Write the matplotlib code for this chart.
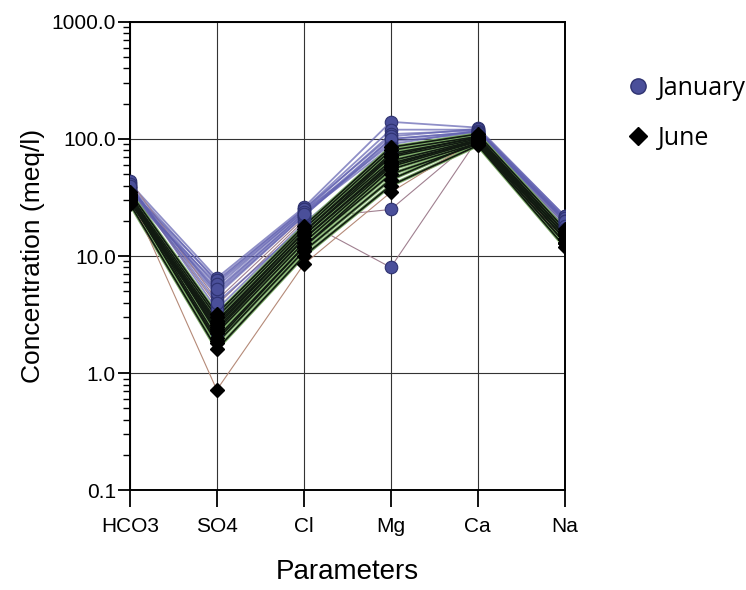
import matplotlib
matplotlib.use("Agg")
import matplotlib.pyplot as plt
from matplotlib.lines import Line2D
from matplotlib.ticker import FixedLocator, LogLocator, NullFormatter

params = ["HCO3", "SO4", "Cl", "Mg", "Ca", "Na"]
ytick_vals = [0.1, 1.0, 10.0, 100.0, 1000.0]
ytick_labels = ["0.1", "1.0", "10.0", "100.0", "1000.0"]

# January samples (meq/l)
jan_hco3 = [42, 40, 38, 36, 35, 44, 39, 37, 33, 41, 38, 36, 40, 34]
jan_so4 = [6.5, 6.0, 5.5, 5.0, 4.6, 4.2, 3.8, 6.2, 5.8, 3.5, 4.8, 5.2, 4.0, 2.2]
jan_cl = [26, 25, 24, 23, 22, 21, 20, 25, 24, 19, 22, 23, 18, 14]
jan_mg = [140, 120, 110, 100, 95, 25, 8, 105, 90, 80, 100, 85, 75, 60]
jan_ca = [125, 120, 118, 115, 112, 105, 100, 122, 118, 110, 115, 112, 108, 100]
jan_na = [22, 21, 21, 20, 20, 19, 18, 22, 21, 19, 20, 20, 18, 17]

# June samples (meq/l)
jun_hco3 = [35, 33, 32, 31, 30, 29, 34, 32, 30, 31, 28, 33, 30, 32]
jun_so4 = [3.2, 3.0, 2.8, 2.6, 2.5, 2.4, 2.2, 2.0, 1.9, 1.8, 1.6, 0.72, 2.7, 2.3]
jun_cl = [18, 17, 16, 15, 15, 14, 13, 12, 12, 11, 10, 8.5, 16, 14]
jun_mg = [85, 80, 75, 70, 65, 62, 58, 55, 50, 45, 40, 35, 72, 60]
jun_ca = [110, 105, 102, 100, 98, 96, 95, 92, 90, 94, 88, 100, 104, 97]
jun_na = [17, 16, 16, 15, 15, 14, 14, 13, 13, 14, 12, 13, 16, 15]

jan = list(zip(jan_hco3, jan_so4, jan_cl, jan_mg, jan_ca, jan_na))
jun = list(zip(jun_hco3, jun_so4, jun_cl, jun_mg, jun_ca, jun_na))
xs = list(range(len(params)))

fig = plt.figure(figsize=(7.46, 5.9), dpi=100)
ax = fig.add_axes([0.174, 0.169, 0.583, 0.794])

# outlier samples drawn with thin lines
jan_thin = {5, 6, 13}
jun_thin = {11}

for i, row in enumerate(jan):
    if i in jan_thin:
        ax.plot(xs, row, color="#a08090", lw=0.8, zorder=2)
    else:
        ax.plot(xs, row, color="#6060b0", lw=1.3, alpha=0.7, zorder=2)
for i, row in enumerate(jun):
    if i in jun_thin:
        ax.plot(xs, row, color="#b58a78", lw=0.8, zorder=3)
    else:
        ax.plot(xs, row, color="#7fae6a", lw=2.6, zorder=3)
        ax.plot(xs, row, color="#111a11", lw=1.2, zorder=4)

for row in jan:
    ax.plot(xs, row, ls="none", marker="o", ms=9, mfc="#4a4f9a",
            mec="#2e3270", mew=0.8, zorder=5)
for row in jun:
    ax.plot(xs, row, ls="none", marker="D", ms=7, color="black", zorder=6)

ax.set_yscale("log")
ax.set_ylim(0.1, 1000)
ax.set_xlim(0, 5)
ax.set_xticks(xs)
ax.set_xticklabels(params)
ax.yaxis.set_major_locator(FixedLocator(ytick_vals))
ax.set_yticklabels(ytick_labels)
ax.yaxis.set_minor_locator(LogLocator(base=10, subs=range(2, 10)))
ax.yaxis.set_minor_formatter(NullFormatter())
ax.grid(True, which="major", color="#333333", lw=0.8)
ax.set_axisbelow(True)
ax.tick_params(axis="y", which="major", length=9, width=1.3,
               labelsize=15, pad=1)
ax.tick_params(axis="x", which="major", length=12, width=1.3,
               labelsize=15, pad=7)
ax.tick_params(axis="y", which="minor", length=5, width=1.0)
for lab in ax.get_xticklabels() + ax.get_yticklabels():
    lab.set_family("Liberation Sans")
for sp in ax.spines.values():
    sp.set_linewidth(1.4)

ax.set_ylabel("Concentration (meq/l)", fontsize=19, family="Liberation Sans",
              labelpad=5)
ax.set_xlabel("Parameters", fontsize=20, family="Liberation Sans", labelpad=17)

handles = [
    Line2D([], [], ls="none", marker="o", ms=11, mfc="#4a4f9a", mec="#2e3270"),
    Line2D([], [], ls="none", marker="D", ms=9, color="black"),
]
fig.legend(handles, ["January", "June"], loc="upper left",
           bbox_to_anchor=(0.805, 0.91), frameon=False, handletextpad=0.2,
           labelspacing=1.0, handlelength=1.2,
           prop={"family": "Open Sans", "size": 18})

fig.savefig("out.png", dpi=100)
